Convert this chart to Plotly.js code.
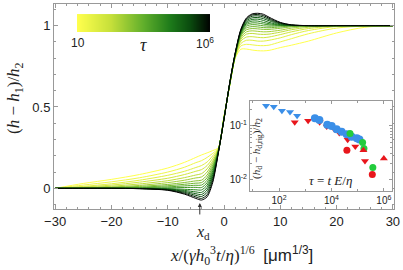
<!DOCTYPE html>
<html><head><meta charset="utf-8">
<script src="https://cdn.plot.ly/plotly-3.0.1.min.js"></script>
<style>html,body{margin:0;padding:0;background:#fff}#plot{width:403px;height:270px}</style>
</head><body><div id="plot"></div>
<script>
// ---- main panel: height profiles (h-h1)/h2 vs scaled x, one curve per tau ----
const xs = [-30,-25,-20,-15,-10,-7,-5,-4,-3,-2,-1,0,1,2,3,4,5,6,7,8,10,12,15,20,25,30];
const tau = [10,22,46,100,215,464,1000,2150,4640,1e4,2.15e4,4.64e4,1e5,2.15e5,4.64e5,1e6];
const h0  = [0,0.03,0.055,0.085,0.125,0.16,0.19,0.205,0.218,0.232,0.25,0.44,0.63,0.80,0.855,0.856,0.85,0.846,0.845,0.848,0.865,0.88,0.905,0.955,0.99,1.0];
const h1  = [0,0.02,0.04,0.065,0.10,0.13,0.158,0.17,0.19,0.215,0.248,0.44,0.63,0.805,0.875,0.885,0.882,0.878,0.877,0.88,0.9,0.92,0.95,0.985,0.998,1.0];
const h2  = [0,0.012,0.028,0.05,0.08,0.105,0.128,0.14,0.162,0.2,0.245,0.44,0.632,0.808,0.89,0.91,0.91,0.905,0.905,0.91,0.925,0.945,0.97,0.995,1.0,1.0];
const h3  = [0,0.008,0.02,0.038,0.062,0.085,0.105,0.115,0.14,0.185,0.243,0.44,0.633,0.81,0.905,0.93,0.932,0.928,0.926,0.93,0.945,0.962,0.982,0.998,1.0,1.0];
const h4  = [0,0.005,0.013,0.027,0.047,0.066,0.082,0.09,0.12,0.17,0.24,0.435,0.633,0.812,0.915,0.948,0.952,0.948,0.946,0.948,0.96,0.975,0.99,1.0,1.0,1.0];
const h5  = [0,0.003,0.008,0.018,0.035,0.05,0.064,0.07,0.1,0.158,0.238,0.435,0.634,0.814,0.925,0.962,0.968,0.965,0.962,0.963,0.972,0.985,0.996,1.0,1.0,1.0];
const h6  = [0,0.002,0.005,0.012,0.024,0.036,0.046,0.05,0.082,0.145,0.236,0.433,0.635,0.816,0.935,0.975,0.982,0.98,0.977,0.977,0.984,0.993,0.999,1.0,1.0,1.0];
const h7  = [0,0.001,0.003,0.007,0.016,0.025,0.032,0.035,0.066,0.132,0.234,0.432,0.636,0.818,0.942,0.986,0.994,0.992,0.988,0.987,0.992,0.998,1.0,1.0,1.0,1.0];
const h8  = [0,0,0.001,0.004,0.009,0.015,0.019,0.02,0.05,0.12,0.232,0.43,0.637,0.82,0.948,0.997,1.006,1.004,0.999,0.997,0.998,1.0,1.0,1.0,1.0,1.0];
const h9  = [0,0,0,0.001,0.003,0.005,0.006,0.005,0.035,0.108,0.23,0.43,0.638,0.822,0.953,1.006,1.017,1.016,1.01,1.005,1.001,1.0,1.0,1.0,1.0,1.0];
const h10 = [0,0,0,0,-0.002,-0.006,-0.009,-0.01,0.02,0.096,0.228,0.428,0.64,0.824,0.958,1.014,1.028,1.028,1.02,1.012,1.003,1.0,1.0,1.0,1.0,1.0];
const h11 = [0,0,0,0,-0.004,-0.013,-0.022,-0.025,0.005,0.084,0.226,0.428,0.641,0.826,0.962,1.022,1.038,1.04,1.032,1.02,1.006,1.001,1.0,1.0,1.0,1.0];
const h12 = [0,0,0,-0.001,-0.006,-0.019,-0.033,-0.038,-0.01,0.072,0.224,0.426,0.642,0.828,0.966,1.03,1.048,1.05,1.043,1.03,1.01,1.002,1.0,1.0,1.0,1.0];
const h13 = [0,0,0,-0.001,-0.008,-0.025,-0.043,-0.05,-0.025,0.06,0.222,0.426,0.643,0.83,0.97,1.037,1.058,1.06,1.053,1.038,1.014,1.003,1.0,1.0,1.0,1.0];
const h14 = [0,0,0,-0.002,-0.01,-0.031,-0.053,-0.062,-0.04,0.048,0.22,0.424,0.644,0.832,0.974,1.043,1.066,1.068,1.062,1.045,1.017,1.004,1.0,1.0,1.0,1.0];
const h15 = [0,0,0,-0.002,-0.012,-0.036,-0.062,-0.072,-0.052,0.036,0.218,0.424,0.645,0.834,0.978,1.048,1.072,1.076,1.07,1.052,1.02,1.005,1.0,1.0,1.0,1.0];
const profiles = [h0,h1,h2,h3,h4,h5,h6,h7,h8,h9,h10,h11,h12,h13,h14,h15];

// ---- inset: (h_d - h_d,rig)/h2 vs tau ----
const blueTriX = [32,63,129,263,490];
const blueTriY = [0.241,0.231,0.194,0.184,0.156];
const redTriX  = [398,1288,3548,6607,12900,19950,41700,81300,190500];
const redTriY  = [0.117,0.126,0.117,0.098,0.087,0.074,0.055,0.041,0.022];
const redCirX  = [38900,363000];
const redCirY  = [0.035,0.0123];
const redUpX   = [166000,1000000];
const redUpY   = [0.035,0.0246];
const greenCirX = [51300,155000,174000,380000];
const greenCirY = [0.072,0.049,0.038,0.0167];
const blueCirX = [2340,3470,6920,10200,15800,24500,38000,58900,93300,117000];
const blueCirY = [0.140,0.130,0.105,0.100,0.087,0.078,0.070,0.063,0.059,0.056];

// colour map for tau (log10 tau from 1 to 6)
const cscale = [[0,'#ffff4d'],[0.25,'#c6e03a'],[0.5,'#5fae2b'],[0.7,'#1d7a1a'],[0.85,'#0a4a0e'],[1,'#000000']];
function hex2rgb(h){return [parseInt(h.slice(1,3),16),parseInt(h.slice(3,5),16),parseInt(h.slice(5,7),16)];}
function colorAt(t){
  for(let i=1;i<cscale.length;i++){
    if(t<=cscale[i][0]){
      const a=cscale[i-1], b=cscale[i];
      const f=(t-a[0])/(b[0]-a[0]);
      const ca=hex2rgb(a[1]), cb=hex2rgb(b[1]);
      return 'rgb('+ca.map((v,j)=>Math.round(v+(cb[j]-v)*f)).join(',')+')';
    }
  }
  return cscale[cscale.length-1][1];
}

const traces = [];
profiles.forEach((p,i)=>{
  const t = (Math.log10(tau[i])-1)/5;
  traces.push({x:xs,y:p,type:'scatter',mode:'lines',xaxis:'x',yaxis:'y',
    line:{color:colorAt(t),width:1,shape:'spline',smoothing:0.8},hoverinfo:'skip',showlegend:false});
});

const BLUE='#3b8fe8', RED='#e8161c', GREEN='#22cc3c';
function pts(x,y,sym,col,size){
  return {x:x,y:y,type:'scatter',mode:'markers',xaxis:'x2',yaxis:'y2',showlegend:false,
    marker:{symbol:sym,color:col,size:size,line:{width:0}}};
}
traces.push(pts(blueTriX,blueTriY,'triangle-down',BLUE,7));
traces.push(pts(redTriX,redTriY,'triangle-down',RED,7));
traces.push(pts(blueCirX,blueCirY,'circle',BLUE,8));
traces.push(pts(greenCirX,greenCirY,'circle',GREEN,7));
traces.push(pts(redCirX,redCirY,'circle',RED,7));
traces.push(pts(redUpX,redUpY,'triangle-up',RED,7));

// colour bar drawn as a smooth heatmap
traces.push({type:'heatmap',x:[1,6],y:[-0.5,0.5],z:[[1,6],[1,6]],zsmooth:'best',
  colorscale:cscale,showscale:false,xaxis:'x3',yaxis:'y3',hoverinfo:'skip'});

const AX='#999';
const tf={family:'Liberation Sans, Arial, sans-serif',size:13,color:'#222'};
const serif='Liberation Serif, Times New Roman, serif';
function ann(o){return Object.assign({xref:'paper',yref:'paper',showarrow:false,xanchor:'center',yanchor:'middle'},o);}
const layout = {
  width:403,height:270,margin:{l:54,r:9,t:4,b:61},
  paper_bgcolor:'#fff',plot_bgcolor:'#fff',showlegend:false,
  xaxis:{domain:[0,1],range:[-30.2,30.2],tickvals:[-30,-20,-10,0,10,20,30],
    ticks:'inside',ticklen:4,tickcolor:AX,showline:true,linecolor:AX,linewidth:1,mirror:'ticks',
    showgrid:false,zeroline:false,tickfont:tf,
    minor:{dtick:2,ticks:'inside',ticklen:2,tickcolor:AX,showgrid:false}},
  yaxis:{domain:[0,1],range:[-0.127,1.133],tickvals:[0,0.5,1],ticktext:['0','0.5','1'],
    ticks:'inside',ticklen:4,tickcolor:AX,showline:true,linecolor:AX,linewidth:1,mirror:'ticks',
    showgrid:false,zeroline:false,tickfont:tf,
    minor:{dtick:0.1,ticks:'inside',ticklen:2,tickcolor:AX,showgrid:false}},
  xaxis2:{domain:[0.5765,0.994],anchor:'y2',type:'log',range:[0.893,6.31],
    tickvals:[100,1e4,1e6],ticktext:['10<sup>2</sup>','10<sup>4</sup>','10<sup>6</sup>'],
    ticks:'inside',ticklen:3,tickcolor:AX,showline:true,linecolor:AX,mirror:'ticks',
    showgrid:false,zeroline:false,tickfont:{family:tf.family,size:10,color:'#222'},
    minor:{tickvals:[10,1000,1e5],ticks:'inside',ticklen:2,tickcolor:AX,showgrid:false}},
  yaxis2:{domain:[0.088,0.527],anchor:'x2',type:'log',range:[-2.22,-0.53],
    tickvals:[0.01,0.1],ticktext:['10<sup>-2</sup>','10<sup>-1</sup>'],
    ticks:'inside',ticklen:3,tickcolor:AX,showline:true,linecolor:AX,mirror:'ticks',
    showgrid:false,zeroline:false,tickfont:{family:tf.family,size:10,color:'#222'},
    minor:{tickvals:[0.02,0.03,0.04,0.05,0.06,0.07,0.08,0.09,0.2],ticks:'inside',ticklen:2,tickcolor:AX,showgrid:false}},
  xaxis3:{domain:[0.0676,0.4588],anchor:'y3',range:[1,6],visible:false,fixedrange:true},
  yaxis3:{domain:[0.863,0.951],anchor:'x3',range:[-0.5,0.5],visible:false,fixedrange:true},
  annotations:[
    ann({x:-0.1147,y:0.5415,textangle:-90,
     text:'(<i>h</i> − <i>h</i><sub>1</sub>)/<i>h</i><sub>2</sub>',font:{family:serif,size:17,color:'#222'}}),
    ann({x:0.552,y:-0.229,
     text:'<i>x</i>/(<i>γh</i><sub>0</sub><sup>3</sup><i>t</i>/<i>η</i>)<sup>1/6</sup>  <span style="font-family:Liberation Sans">[μm<sup>1/3</sup>]</span>',
     font:{family:serif,size:17,color:'#222'}}),
    ann({x:(203-54)/340,y:-0.117,text:'<i>x</i><sub>d</sub>',font:{family:serif,size:16,color:'#222'}}),
    {xref:'x',yref:'y',x:-4.3,y:-0.09,ax:0,ay:13,axref:'pixel',ayref:'pixel',text:'',showarrow:true,
     arrowhead:2,arrowsize:0.8,arrowwidth:1,arrowcolor:'#333'},
    ann({x:0.0706,y:0.81,text:'10',font:{family:tf.family,size:12,color:'#222'}}),
    ann({x:0.444,y:0.81,text:'10<sup>6</sup>',font:{family:tf.family,size:12,color:'#222'}}),
    ann({x:0.262,y:0.80,text:'<i>τ</i>',font:{family:serif,size:18,color:'#222'}}),
    ann({x:0.597,y:0.298,textangle:-90,
     text:'(<i>h</i><sub>d</sub> − <i>h</i><sub>d,rig</sub>)/<i>h</i><sub>2</sub>',font:{family:serif,size:11,color:'#222'}}),
    ann({x:0.812,y:0.141,text:'<i>τ</i> = <i>t E</i>/<i>η</i>',font:{family:serif,size:13,color:'#222'}})
  ]
};
Plotly.newPlot('plot',traces,layout,{displayModeBar:false,staticPlot:true});
</script></body></html>
